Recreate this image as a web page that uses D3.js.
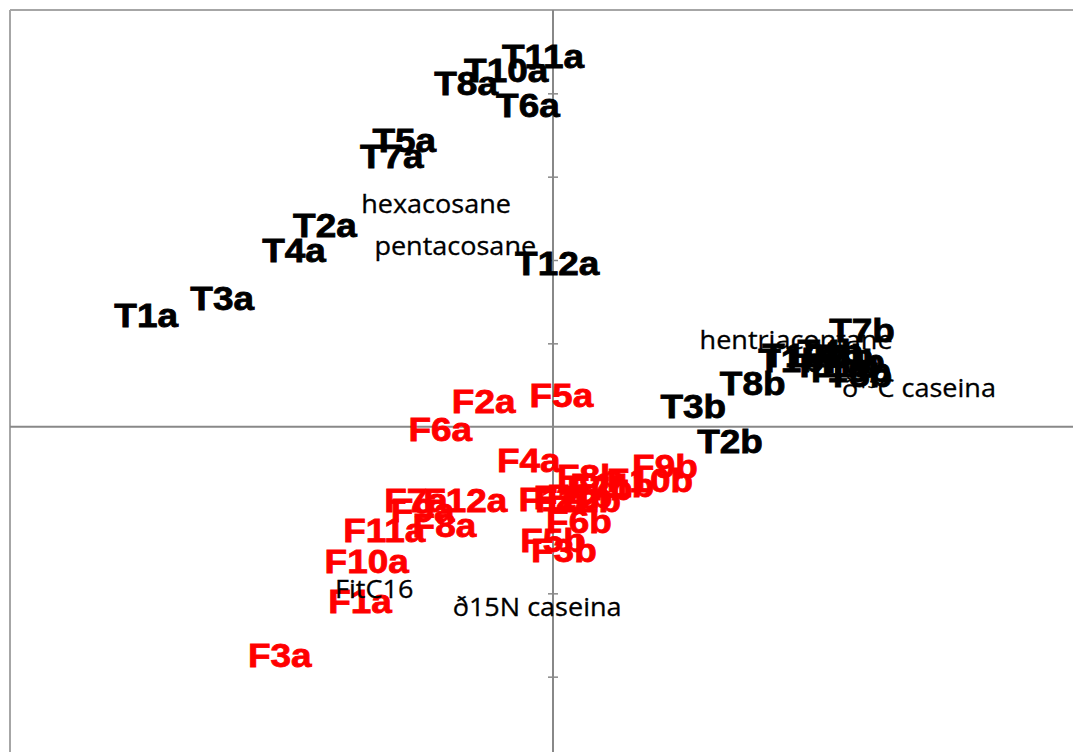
<!DOCTYPE html>
<html>
<head>
<meta charset="utf-8">
<script src="https://cdn.jsdelivr.net/npm/d3@7"></script>
<style>
  body { margin: 0; background: #fff; }
  svg { display: block; }
</style>
</head>
<body>
<div id="chart"></div>
<script>
// sample scores, first sampling (a) and second (b)
var tNames = ["T1", "T2", "T3", "T4", "T5", "T6", "T7", "T8", "T10", "T11", "T12"];
var tA_x = [-4.87, -2.73, -3.96, -3.10, -1.78, -0.30, -1.93, -1.04, -0.56, -0.12, 0.05];
var tA_y = [1.33, 2.41, 1.54, 2.12, 3.44, 3.86, 3.24, 4.12, 4.27, 4.44, 1.96];

var tbNames = ["T1", "T2", "T3", "T4", "T5", "T6", "T7", "T8", "T9", "T10", "T11", "T12"];
var tB_x = [2.85, 2.12, 1.68, 3.32, 3.67, 3.44, 3.70, 2.39, 3.58, 3.53, 3.38, 3.02];
var tB_y = [0.79, -0.18, 0.24, 0.90, 0.62, 0.84, 1.15, 0.52, 0.78, 0.67, 0.73, 0.85];

var fNames = ["F1", "F2", "F3", "F4", "F5", "F6", "F7", "F8", "F9", "F10", "F11", "F12"];
var fA_x = [-2.31, -0.83, -3.27, -0.29, 0.10, -1.35, -1.64, -1.30, -1.56, -2.23, -2.02, -1.05];
var fA_y = [-2.10, 0.30, -2.75, -0.41, 0.37, -0.03, -0.88, -1.18, -1.01, -1.62, -1.25, -0.89];
var fB_x = [-0.02, 0.16, 0.13, 0.32, 0.00, 0.31, 0.56, 0.44, 1.34, 1.16, 0.71, 0.30];
var fB_y = [-0.87, -0.85, -1.49, -0.84, -1.36, -1.14, -0.74, -0.60, -0.48, -0.64, -0.70, -0.88];

// variable loadings
var varNames = ["hexacosane", "pentacosane", "hentriacontane", "ð13C caseina", "ð15N caseina", "FitC16"];
var var_x = [-1.40, -1.17, 2.91, 4.38, -0.19, -2.14];
var var_y = [2.67, 2.17, 1.04, 0.46, -2.16, -1.95];

var yTicks = [-3, -2, -1, 1, 2, 3, 4];

function init() {
    var w = 1073;
    var h = 752;
    var stretch = 1.12; // labels look a bit wide

    var x = d3.scaleLinear().domain([-6.5, 6.5]).range([10, 1096]);
    var y = d3.scaleLinear().domain([-4, 5]).range([760, 10]);

    var svg = d3.select("#chart")
        .append("svg")
        .attr("width", w)
        .attr("height", h);

    // plot border (top + left, the rest is cut off)
    svg.append("line")
        .attr("x1", 10).attr("x2", w).attr("y1", 10).attr("y2", 10)
        .attr("stroke", "#a6a6a6").attr("stroke-width", 2);
    svg.append("line")
        .attr("x1", 10).attr("x2", 10).attr("y1", 10).attr("y2", h)
        .attr("stroke", "#a6a6a6").attr("stroke-width", 2);

    // zero axes
    svg.append("line")
        .attr("x1", 10).attr("x2", w).attr("y1", y(0)).attr("y2", y(0))
        .attr("stroke", "#888").attr("stroke-width", 2);

    var yAxis = d3.axisLeft(y).tickValues(yTicks).tickSize(10).tickFormat("");
    var gy = svg.append("g")
        .attr("transform", "translate(" + (x(0) + 5) + ",0)")
        .call(yAxis);
    gy.select(".domain").remove();
    gy.selectAll(".tick line").attr("stroke", "#888").attr("stroke-width", 1.5);

    svg.append("line")
        .attr("x1", x(0)).attr("x2", x(0)).attr("y1", 10).attr("y2", h)
        .attr("stroke", "#888").attr("stroke-width", 2);

    function labels(names, suffix, xs, ys, color) {
        svg.append("g").selectAll("text")
            .data(names)
            .enter()
            .append("text")
            .attr("transform", function (d, i) {
                return "translate(" + x(xs[i]) + "," + y(ys[i]) + ") scale(" + stretch + ",1)";
            })
            .attr("text-anchor", "middle")
            .attr("dy", "0.35em")
            .attr("font-family", "'Liberation Sans', Arial, sans-serif")
            .attr("font-weight", "bold")
            .attr("font-size", "33px")
            .attr("fill", color)
            .attr("stroke", color)
            .attr("stroke-width", 0.8)
            .text(function (d) { return d + suffix; });
    }

    labels(tNames, "a", tA_x, tA_y, "#000");
    labels(tbNames, "b", tB_x, tB_y, "#000");
    labels(fNames, "a", fA_x, fA_y, "#ff0000");
    labels(fNames, "b", fB_x, fB_y, "#ff0000");

    // variable names, regular font, ð13C gets superscript digits
    var vt = svg.append("g").selectAll("text")
        .data(varNames)
        .enter()
        .append("text")
        .attr("transform", function (d, i) {
            return "translate(" + x(var_x[i]) + "," + y(var_y[i]) + ") scale(1.06,1)";
        })
        .attr("text-anchor", "middle")
        .attr("dy", "0.35em")
        .attr("font-family", "'Open Sans', 'Noto Sans', sans-serif")
        .attr("font-size", "25.5px")
        .attr("fill", "#000")
        .attr("stroke", "#000")
        .attr("stroke-width", 0.3);

    vt.each(function (d) {
        var t = d3.select(this);
        var m = d.match(/^ð(13)(C .*)$/);
        if (m) {
            t.append("tspan").text("ð");
            t.append("tspan").attr("font-size", "16px").attr("dy", "-9").text(m[1]);
            t.append("tspan").attr("dy", "9").text(m[2]);
        } else {
            t.text(d);
        }
    });
}

window.onload = init;
</script>
</body>
</html>
